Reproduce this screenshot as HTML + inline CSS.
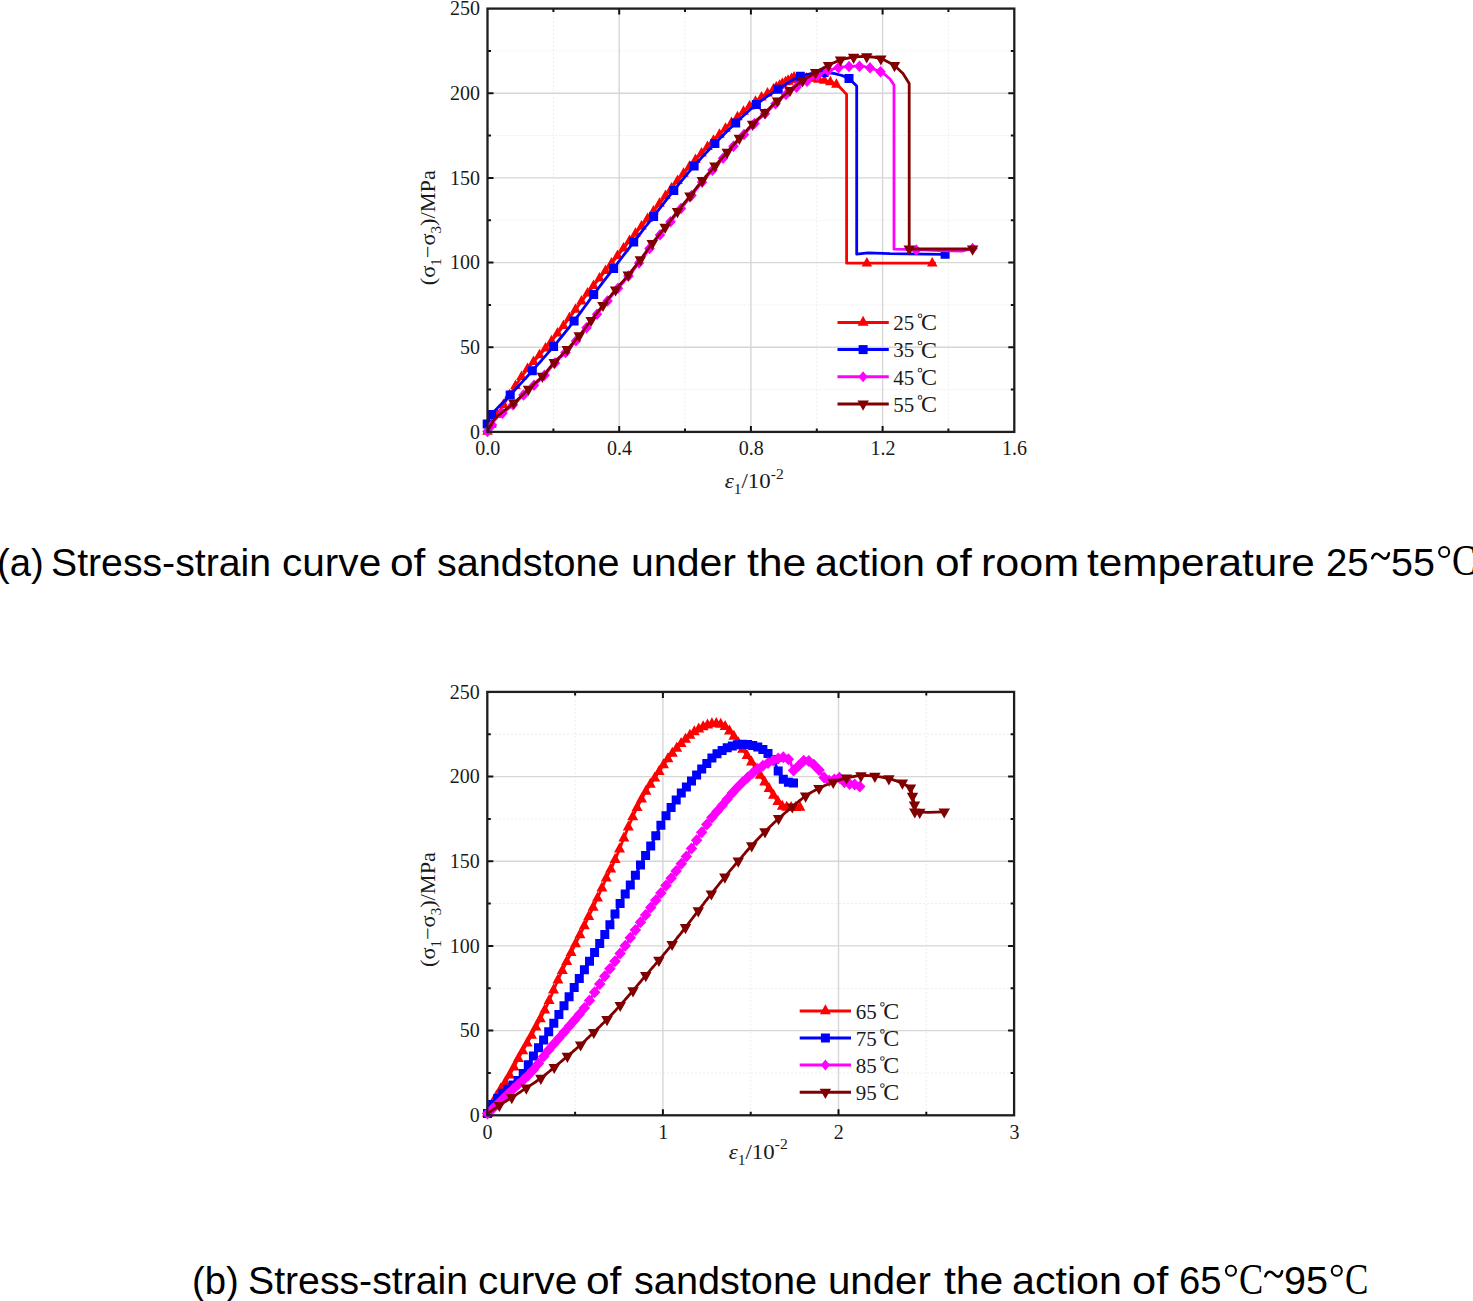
<!DOCTYPE html>
<html><head><meta charset="utf-8"><title>Stress-strain curves</title>
<style>
html,body{margin:0;padding:0;background:#fff;}
body{width:1473px;height:1301px;position:relative;overflow:hidden;}
.w{position:absolute;font-family:"Liberation Sans",sans-serif;font-size:38px;color:#000;white-space:nowrap;line-height:1;transform-origin:0 0;}
</style></head><body>
<svg width="1473" height="1301" viewBox="0 0 1473 1301" style="position:absolute;left:0;top:0">
<line x1="553.4" y1="8.6" x2="553.4" y2="431.9" stroke="#ededed" stroke-width="1" stroke-dasharray="2,2"/>
<line x1="685" y1="8.6" x2="685" y2="431.9" stroke="#ededed" stroke-width="1" stroke-dasharray="2,2"/>
<line x1="816.8" y1="8.6" x2="816.8" y2="431.9" stroke="#ededed" stroke-width="1" stroke-dasharray="2,2"/>
<line x1="948.4" y1="8.6" x2="948.4" y2="431.9" stroke="#ededed" stroke-width="1" stroke-dasharray="2,2"/>
<line x1="487.5" y1="389.6" x2="1014.3" y2="389.6" stroke="#ededed" stroke-width="1" stroke-dasharray="2,2"/>
<line x1="487.5" y1="304.9" x2="1014.3" y2="304.9" stroke="#ededed" stroke-width="1" stroke-dasharray="2,2"/>
<line x1="487.5" y1="220.2" x2="1014.3" y2="220.2" stroke="#ededed" stroke-width="1" stroke-dasharray="2,2"/>
<line x1="487.5" y1="135.6" x2="1014.3" y2="135.6" stroke="#ededed" stroke-width="1" stroke-dasharray="2,2"/>
<line x1="487.5" y1="50.9" x2="1014.3" y2="50.9" stroke="#ededed" stroke-width="1" stroke-dasharray="2,2"/>
<line x1="619.2" y1="8.6" x2="619.2" y2="431.9" stroke="#d6d6d6" stroke-width="1.4"/>
<line x1="750.9" y1="8.6" x2="750.9" y2="431.9" stroke="#d6d6d6" stroke-width="1.4"/>
<line x1="882.6" y1="8.6" x2="882.6" y2="431.9" stroke="#d6d6d6" stroke-width="1.4"/>
<line x1="487.5" y1="347.2" x2="1014.3" y2="347.2" stroke="#d6d6d6" stroke-width="1.4"/>
<line x1="487.5" y1="262.6" x2="1014.3" y2="262.6" stroke="#d6d6d6" stroke-width="1.4"/>
<line x1="487.5" y1="177.9" x2="1014.3" y2="177.9" stroke="#d6d6d6" stroke-width="1.4"/>
<line x1="487.5" y1="93.3" x2="1014.3" y2="93.3" stroke="#d6d6d6" stroke-width="1.4"/>
<polyline points="487.5,431.5 487.8,430.9 488.2,430.2 488.7,429.4 489.2,428.4 489.9,427.3 490.7,425.8 491.7,424.1 493,422 494.5,419.4 496.4,416.4 498.4,413 500.6,409.4 502.9,405.6 505.2,401.9 507.5,398.3 509.6,394.9 511.7,391.7 513.6,388.7 515.6,385.7 517.5,382.7 519.5,379.7 521.6,376.8 523.7,373.8 526,370.8 528.4,367.8 531,364.7 533.6,361.7 536.3,358.7 539.1,355.6 541.8,352.6 544.5,349.5 547.1,346.4 549.7,343.3 552.2,340.1 554.7,337 557.2,333.8 559.7,330.6 562.2,327.5 564.6,324.2 567.1,321 569.6,317.7 572,314.4 574.4,311.1 576.9,307.8 579.3,304.5 581.7,301.1 584.2,297.8 586.7,294.5 589.2,291.2 591.8,288 594.4,284.7 597,281.4 599.6,278.2 602.2,274.9 604.9,271.7 607.5,268.4 610.1,265.1 612.7,261.8 615.4,258.5 618,255.2 620.6,251.9 623.3,248.6 625.9,245.4 628.5,242.1 631.1,238.9 633.8,235.6 636.4,232.4 639,229.2 641.7,226 644.3,222.8 646.9,219.6 649.5,216.4 652,213.2 654.6,209.9 657.1,206.6 659.6,203.4 662.2,200.1 664.7,196.9 667.2,193.7 669.7,190.5 672.3,187.4 674.8,184.2 677.3,181.1 679.8,178 682.3,175 684.9,171.9 687.4,169 690,166 692.5,163.1 695.1,160.2 697.7,157.4 700.3,154.6 702.9,151.8 705.5,149 708.1,146.3 710.7,143.6 713.2,140.9 715.8,138.3 718.4,135.7 721,133.1 723.6,130.5 726.2,128 728.7,125.5 731.3,123 733.9,120.6 736.4,118.1 739,115.7 741.5,113.4 744.1,111 746.7,108.8 749.3,106.5 751.9,104.4 754.6,102.3 757.3,100.3 760,98.3 762.7,96.4 765.5,94.6 768.2,92.8 771,91 773.7,89.2 776.8,87.3 780.2,85.2 783.9,83.1 787.5,81 790.8,79.2 793.4,77.7 795.2,76.7 795.8,76.3 794.9,76.8 792.6,78.1 789.2,80 785.4,82.2 781.4,84.5 777.8,86.5 775,88.1 773.5,89 773.2,89.1 773.8,88.8 775,88.1 776.6,87.1 778.5,86 780.5,84.9 782.4,84 784,83.2 785.4,82.6 786.9,82.1 788.4,81.6 789.9,81.1 791.4,80.6 793,80.2 794.5,79.8 796,79.5 797.5,79.2 799,78.9 800.6,78.7 802.1,78.5 803.6,78.4 805.1,78.3 806.6,78.2 808,78.2 809.4,78.2 810.7,78.3 812,78.5 813.2,78.7 814.5,78.9 815.7,79.1 816.9,79.3 818,79.5 819.1,79.7 820.1,79.8 821,80 822,80.1 822.9,80.3 823.9,80.5 824.9,80.7 826,81 827.2,81.3 828.4,81.6 829.7,81.9 830.9,82.2 832.3,82.6 833.6,83.1 834.9,83.7 836.2,84.5 837.6,85.5 839,86.7 840.5,88.1 842,89.6 843.5,91.1 844.7,92.4 845.8,93.5 846.6,94.3 846.6,263.2 935.8,263.2" fill="none" stroke="#ff0000" stroke-width="2.8" stroke-linejoin="round" stroke-linecap="butt"/>
<path d="M482.2 434.7L492.8 434.7L487.5 425.2ZM486.2 427.7L496.8 427.7L491.5 418.2ZM492.2 417.7L502.8 417.7L497.5 408.2ZM498.2 407.9L508.8 407.9L503.5 398.4ZM504.2 398.3L514.8 398.3L509.5 388.8ZM510.2 389L520.8 389L515.5 379.5ZM516.2 380.1L526.8 380.1L521.5 370.6ZM522.2 372.1L532.8 372.1L527.5 362.6ZM528.2 365L538.8 365L533.5 355.5ZM534.2 358.3L544.8 358.3L539.5 348.8ZM540.2 351.5L550.8 351.5L545.5 342ZM546.2 344.2L556.8 344.2L551.5 334.7ZM552.2 336.6L562.8 336.6L557.5 327.1ZM558.2 328.9L568.8 328.9L563.5 319.4ZM564.2 321L574.8 321L569.5 311.5ZM570.2 312.8L580.8 312.8L575.5 303.3ZM576.2 304.6L586.8 304.6L581.5 295.1ZM582.2 296.6L592.8 296.6L587.5 287.1ZM588.2 289L598.8 289L593.5 279.5ZM594.2 281.5L604.8 281.5L599.5 272ZM600.2 274L610.8 274L605.5 264.5ZM606.2 266.5L616.8 266.5L611.5 257ZM612.2 259L622.8 259L617.5 249.5ZM618.2 251.5L628.8 251.5L623.5 242ZM624.2 244.1L634.8 244.1L629.5 234.6ZM630.2 236.7L640.8 236.7L635.5 227.2ZM636.2 229.4L646.8 229.4L641.5 219.9ZM642.2 222L652.8 222L647.5 212.5ZM648.2 214.4L658.8 214.4L653.5 204.9ZM654.2 206.7L664.8 206.7L659.5 197.2ZM660.2 199L670.8 199L665.5 189.5ZM666.2 191.5L676.8 191.5L671.5 182ZM672.2 184L682.8 184L677.5 174.5ZM678.2 176.7L688.8 176.7L683.5 167.2ZM684.2 169.7L694.8 169.7L689.5 160.2ZM690.2 162.9L700.8 162.9L695.5 153.4ZM696.2 156.4L706.8 156.4L701.5 146.9ZM702.2 150.1L712.8 150.1L707.5 140.6ZM708.2 143.8L718.8 143.8L713.5 134.3ZM714.2 137.7L724.8 137.7L719.5 128.2ZM720.2 131.8L730.8 131.8L725.5 122.3ZM726.2 126L736.8 126L731.5 116.5ZM732.2 120.3L742.8 120.3L737.5 110.8ZM738.2 114.8L748.8 114.8L743.5 105.3ZM744.2 109.5L754.8 109.5L749.5 100ZM750.2 104.8L760.8 104.8L755.5 95.3ZM756.2 100.5L766.8 100.5L761.5 91ZM762.2 96.4L772.8 96.4L767.5 86.9ZM768.2 92.5L778.8 92.5L773.5 83ZM774.2 88.8L784.8 88.8L779.5 79.3ZM780.2 85.3L790.8 85.3L785.5 75.8ZM786.2 81.9L796.8 81.9L791.5 72.4ZM788.8 80.4L799.3 80.4L794.1 70.9ZM782.8 83.8L793.3 83.8L788.1 74.3ZM776.8 87.2L787.3 87.2L782.1 77.7ZM770.8 90.7L781.3 90.7L776.1 81.2ZM771.1 90.4L781.6 90.4L776.4 80.9ZM777.1 87.1L787.6 87.1L782.4 77.6ZM783.1 84.7L793.6 84.7L788.4 75.2ZM789.1 83L799.6 83L794.4 73.5ZM795.1 81.9L805.6 81.9L800.4 72.4ZM801.1 81.4L811.6 81.4L806.4 71.9ZM807.1 81.7L817.6 81.7L812.4 72.2ZM813.1 82.7L823.6 82.7L818.4 73.2ZM819.1 83.8L829.6 83.8L824.4 74.3ZM825.1 85.2L835.6 85.2L830.4 75.7ZM831.1 87.8L841.6 87.8L836.4 78.3ZM861.6 266.4L872.1 266.4L866.9 256.9ZM927 266.4L937.5 266.4L932.2 256.9Z" fill="#ff0000"/>
<polyline points="487.2,424 487.4,423.3 487.6,422.5 487.9,421.6 488.2,420.5 488.6,419.2 489.3,417.8 490.2,416.2 491.5,414.5 493.1,412.6 495.1,410.4 497.3,408.1 499.7,405.6 502.3,403 504.9,400.4 507.6,397.6 510.2,394.9 512.8,392.1 515.5,389.2 518.3,386.2 521.1,383.1 523.9,380.1 526.8,377 529.6,373.9 532.3,370.8 535,367.8 537.7,364.7 540.4,361.7 543,358.7 545.7,355.6 548.3,352.6 551,349.5 553.6,346.4 556.2,343.3 558.8,340.1 561.4,337 564,333.8 566.5,330.6 569.1,327.5 571.6,324.2 574.1,321 576.6,317.7 579.1,314.4 581.5,311.1 583.9,307.8 586.4,304.5 588.8,301.1 591.2,297.8 593.7,294.5 596.2,291.2 598.6,288 601.1,284.7 603.6,281.4 606.1,278.2 608.6,274.9 611.1,271.7 613.6,268.4 616.1,265.1 618.6,261.8 621.1,258.5 623.7,255.2 626.2,251.9 628.7,248.6 631.2,245.4 633.7,242.1 636.2,238.9 638.7,235.6 641.2,232.4 643.6,229.2 646.1,226 648.6,222.8 651.1,219.6 653.6,216.4 656.1,213.2 658.6,209.9 661.1,206.6 663.7,203.4 666.2,200.1 668.7,196.9 671.3,193.7 673.8,190.5 676.3,187.4 678.9,184.2 681.4,181.1 683.9,178 686.4,175 689,171.9 691.5,169 694.1,166 696.7,163.1 699.3,160.2 701.9,157.4 704.5,154.6 707.1,151.8 709.7,149 712.3,146.3 714.9,143.6 717.5,140.9 720.1,138.3 722.7,135.7 725.3,133.1 727.9,130.5 730.5,128 733.1,125.5 735.7,123 738.3,120.6 740.9,118.1 743.4,115.7 746,113.4 748.6,111 751.2,108.8 753.8,106.5 756.4,104.4 759.1,102.3 761.8,100.3 764.5,98.3 767.2,96.4 770,94.6 772.7,92.8 775.5,91 778.2,89.2 780.9,87.4 783.7,85.6 786.4,83.8 789.1,82 791.9,80.4 794.7,78.8 797.5,77.5 800.3,76.3 803.2,75.4 806.3,74.6 809.4,74 812.5,73.5 815.6,73.1 818.6,72.9 821.4,72.7 824,72.6 826.4,72.6 828.7,72.7 830.9,73 832.9,73.3 834.9,73.7 836.7,74.2 838.4,74.6 840,75 841.5,75.4 843,75.9 844.3,76.4 845.5,77 846.6,77.5 847.5,77.9 848.4,78.3 849,78.6 856.7,86 856.7,254.2 868,252.8 890,253.6 945.1,254.3" fill="none" stroke="#0000ff" stroke-width="2.8" stroke-linejoin="round" stroke-linecap="butt"/>
<path d="M482.7 419.5h9v9h-9ZM487 410h9v9h-9ZM505.7 390.4h9v9h-9ZM527.8 366.3h9v9h-9ZM549.1 341.9h9v9h-9ZM569.6 316.5h9v9h-9ZM589.2 290h9v9h-9ZM609.1 263.9h9v9h-9ZM629.2 237.6h9v9h-9ZM649.1 211.9h9v9h-9ZM669.3 186h9v9h-9ZM689.6 161.5h9v9h-9ZM710.4 139.1h9v9h-9ZM731.2 118.5h9v9h-9ZM751.9 99.9h9v9h-9ZM773.7 84.7h9v9h-9ZM795.8 71.8h9v9h-9ZM819.5 68.1h9v9h-9ZM844.5 74.1h9v9h-9ZM940.6 249.8h9v9h-9Z" fill="#0000ff"/>
<polyline points="487.5,431.5 487.8,431.1 488.2,430.5 488.7,429.8 489.2,429 489.8,428.2 490.4,427.3 491,426.5 491.6,425.6 492.1,424.8 492.5,424 492.8,423.2 493.2,422.4 493.7,421.5 494.4,420.5 495.4,419.4 496.6,418.1 498.2,416.6 500.2,415 502.5,413.1 504.9,411.3 507.4,409.3 509.9,407.3 512.2,405.4 514.4,403.6 516.4,401.8 518.3,400.1 520.2,398.3 522,396.6 523.8,394.8 525.6,393.1 527.3,391.4 529.1,389.7 530.9,388 532.7,386.4 534.5,384.8 536.2,383.2 538,381.7 539.7,380.1 541.4,378.4 543,376.8 544.6,375.1 546.1,373.4 547.6,371.7 549,369.9 550.4,368.2 551.9,366.4 553.4,364.7 554.9,363 556.5,361.3 558.1,359.7 559.7,358.1 561.4,356.5 563,354.9 564.7,353.3 566.3,351.7 567.9,350 569.4,348.3 571,346.6 572.5,344.9 574,343.2 575.5,341.5 576.9,339.8 578.4,338 579.9,336.2 581.4,334.4 582.9,332.5 584.3,330.6 585.8,328.6 587.3,326.7 588.7,324.7 590.2,322.8 591.7,320.9 593.2,319 594.7,317.1 596.1,315.3 597.6,313.4 599.1,311.5 600.6,309.7 602.1,307.8 603.6,305.9 605.1,304 606.7,302 608.3,300.1 609.9,298.1 611.4,296.2 613,294.2 614.6,292.3 616.2,290.4 617.8,288.5 619.4,286.7 621,284.8 622.6,283 624.2,281.2 625.8,279.3 627.3,277.5 628.9,275.6 630.4,273.7 632,271.8 633.5,269.9 635,268 636.5,266.1 638,264.2 639.5,262.3 641,260.3 642.5,258.3 643.9,256.3 645.4,254.3 646.9,252.2 648.3,250.1 649.8,248.1 651.3,246 652.8,244 654.4,242 656,239.9 657.6,237.9 659.2,235.9 660.9,233.8 662.5,231.8 664.1,229.8 665.7,227.8 667.3,225.8 668.8,223.8 670.4,221.9 671.9,219.9 673.5,218 675,216 676.5,214 678.1,212.1 679.7,210.2 681.2,208.2 682.8,206.3 684.4,204.3 685.9,202.4 687.5,200.5 689,198.5 690.6,196.6 692.2,194.7 693.7,192.7 695.2,190.7 696.8,188.8 698.3,186.8 699.9,184.9 701.4,183 703,181.1 704.6,179.2 706.1,177.4 707.7,175.6 709.3,173.7 710.9,171.9 712.5,170.2 714,168.4 715.6,166.6 717.1,164.8 718.7,163.1 720.2,161.4 721.7,159.7 723.2,158 724.8,156.2 726.3,154.5 727.8,152.8 729.3,151.1 730.8,149.3 732.3,147.6 733.8,145.8 735.4,144.1 736.9,142.3 738.4,140.6 740,138.8 741.6,137 743.2,135.2 744.9,133.4 746.6,131.7 748.3,129.9 749.9,128.1 751.6,126.4 753.2,124.8 754.8,123.2 756.4,121.7 757.9,120.2 759.4,118.8 761,117.4 762.5,116 764.1,114.5 765.6,113.1 767.2,111.6 768.7,110.1 770.3,108.7 771.8,107.2 773.4,105.7 775,104.2 776.5,102.8 778.1,101.4 779.7,100 781.3,98.6 782.8,97.2 784.4,95.8 786,94.5 787.6,93.2 789.1,92 790.6,90.9 792.1,89.9 793.5,88.9 794.9,88 796.3,87.2 797.7,86.4 799.1,85.6 800.6,84.8 802,84 803.5,83.2 804.9,82.3 806.4,81.5 807.9,80.7 809.4,79.9 810.9,79.1 812.4,78.3 814,77.5 815.6,76.7 817.2,75.8 818.9,74.9 820.5,74.1 822.2,73.2 823.8,72.4 825.4,71.7 827,71 828.5,70.4 830,69.9 831.5,69.4 833,69 834.5,68.6 835.9,68.2 837.3,67.9 838.7,67.6 840.1,67.4 841.4,67.2 842.7,67 843.9,66.9 845.2,66.8 846.5,66.8 847.7,66.7 849,66.6 850.3,66.5 851.6,66.4 852.9,66.3 854.2,66.2 855.5,66.2 856.8,66.1 858.1,66.2 859.4,66.2 860.7,66.3 862,66.4 863.2,66.5 864.5,66.7 865.7,66.9 867.1,67.1 868.4,67.4 869.8,67.8 871.3,68.3 873.1,68.8 874.9,69.5 876.7,70.2 878.4,70.9 880,71.5 881.3,72 882.3,72.4 890,79 894,85 894,249.2 916,249.6 940,250.5 962,251.2 972.6,248.4" fill="none" stroke="#ff00ff" stroke-width="2.8" stroke-linejoin="round" stroke-linecap="butt"/>
<path d="M487.5 425.8L492.8 431.5L487.5 437.2L482.2 431.5ZM492 419.2L497.2 424.9L492 430.7L486.8 424.9ZM502.5 407.4L507.8 413.1L502.5 418.9L497.2 413.1ZM513 399L518.2 404.8L513 410.5L507.8 404.8ZM523.5 389.3L528.8 395.1L523.5 400.8L518.2 395.1ZM534 379.5L539.2 385.2L534 391L528.8 385.2ZM544.5 369.4L549.8 375.2L544.5 380.9L539.2 375.2ZM555 357.1L560.2 362.9L555 368.6L549.8 362.9ZM565.5 346.7L570.8 352.5L565.5 358.2L560.2 352.5ZM576 335.1L581.2 340.9L576 346.6L570.8 340.9ZM586.5 322L591.8 327.7L586.5 333.5L581.2 327.7ZM597 308.4L602.2 314.2L597 319.9L591.8 314.2ZM607.5 295.3L612.8 301L607.5 306.8L602.2 301ZM618 282.5L623.2 288.3L618 294L612.8 288.3ZM628.5 270.3L633.8 276.1L628.5 281.8L623.2 276.1ZM639 257.2L644.2 262.9L639 268.7L633.8 262.9ZM649.5 242.7L654.8 248.5L649.5 254.2L644.2 248.5ZM660 229.1L665.2 234.9L660 240.6L654.8 234.9ZM670.5 216L675.8 221.7L670.5 227.5L665.2 221.7ZM681 202.7L686.2 208.5L681 214.2L675.8 208.5ZM691.5 189.7L696.8 195.5L691.5 201.2L686.2 195.5ZM702 176.6L707.2 182.3L702 188.1L696.8 182.3ZM712.5 164.4L717.8 170.1L712.5 175.9L707.2 170.1ZM723 152.5L728.2 158.2L723 164L717.8 158.2ZM733.5 140.5L738.8 146.2L733.5 152L728.2 146.2ZM744 128.7L749.2 134.4L744 140.2L738.8 134.4ZM754.5 117.8L759.8 123.5L754.5 129.3L749.2 123.5ZM765 107.9L770.2 113.7L765 119.4L759.8 113.7ZM775.5 98L780.8 103.8L775.5 109.5L770.2 103.8ZM786 88.8L791.2 94.5L786 100.3L780.8 94.5ZM796.5 81.4L801.8 87.1L796.5 92.9L791.2 87.1ZM807 75.5L812.2 81.2L807 87L801.8 81.2ZM817.5 69.9L822.8 75.6L817.5 81.4L812.2 75.6ZM828 64.9L833.2 70.6L828 76.4L822.8 70.6ZM838.5 61.9L843.8 67.6L838.5 73.4L833.2 67.6ZM849 60.8L854.2 66.6L849 72.3L843.8 66.6ZM859.5 60.5L864.8 66.2L859.5 72L854.2 66.2ZM870 62.1L875.2 67.9L870 73.6L864.8 67.9ZM880.5 65.9L885.8 71.7L880.5 77.4L875.2 71.7ZM916.2 244.2L921.5 250L916.2 255.8L911 250ZM972.6 242.7L977.9 248.4L972.6 254.2L967.4 248.4Z" fill="#ff00ff"/>
<polyline points="487.5,431.5 487.8,431 488.1,430.4 488.5,429.6 488.9,428.7 489.4,427.8 489.9,426.8 490.5,425.9 491,425 491.5,424.2 491.8,423.4 492.2,422.6 492.6,421.8 493.1,420.9 493.8,419.9 494.8,418.8 496,417.5 497.6,416 499.6,414.4 501.9,412.5 504.3,410.7 506.8,408.7 509.3,406.7 511.6,404.8 513.8,403 515.8,401.2 517.7,399.5 519.6,397.7 521.4,395.9 523.2,394.2 525,392.5 526.7,390.8 528.5,389.1 530.3,387.4 532.1,385.8 533.9,384.2 535.6,382.6 537.4,381.1 539.1,379.5 540.8,377.8 542.4,376.2 544,374.5 545.5,372.8 547,371.1 548.4,369.3 549.8,367.6 551.3,365.8 552.8,364.1 554.3,362.4 555.9,360.7 557.5,359.1 559.1,357.5 560.8,355.9 562.4,354.3 564.1,352.7 565.7,351.1 567.3,349.4 568.8,347.7 570.4,346 571.9,344.3 573.4,342.6 574.9,340.9 576.3,339.2 577.8,337.4 579.3,335.6 580.8,333.8 582.3,331.9 583.7,330 585.2,328 586.7,326.1 588.1,324.1 589.6,322.2 591.1,320.3 592.6,318.4 594.1,316.5 595.5,314.7 597,312.8 598.5,310.9 600,309.1 601.5,307.2 603,305.3 604.5,303.4 606.1,301.4 607.7,299.5 609.2,297.5 610.8,295.6 612.4,293.6 614,291.7 615.6,289.8 617.2,287.9 618.8,286.1 620.4,284.2 622,282.4 623.6,280.6 625.2,278.7 626.7,276.9 628.3,275 629.8,273.1 631.4,271.2 632.9,269.3 634.4,267.4 635.9,265.5 637.4,263.6 638.9,261.7 640.4,259.7 641.9,257.7 643.3,255.7 644.8,253.7 646.2,251.6 647.7,249.5 649.2,247.5 650.7,245.4 652.2,243.4 653.8,241.4 655.4,239.3 657,237.3 658.6,235.3 660.3,233.2 661.9,231.2 663.5,229.2 665.1,227.2 666.7,225.2 668.2,223.2 669.8,221.3 671.3,219.3 672.9,217.4 674.4,215.4 675.9,213.4 677.5,211.5 679.1,209.6 680.6,207.6 682.2,205.7 683.8,203.7 685.3,201.8 686.9,199.9 688.4,197.9 690,196 691.6,194.1 693.1,192.1 694.6,190.1 696.2,188.2 697.7,186.2 699.3,184.3 700.8,182.4 702.4,180.5 704,178.6 705.5,176.8 707.1,175 708.7,173.1 710.3,171.3 711.9,169.6 713.4,167.8 715,166 716.5,164.2 718.1,162.5 719.6,160.8 721.1,159.1 722.6,157.4 724.2,155.6 725.7,153.9 727.2,152.2 728.7,150.5 730.2,148.7 731.7,147 733.2,145.2 734.8,143.5 736.3,141.7 737.8,140 739.4,138.2 741,136.4 742.6,134.6 744.3,132.8 746,131.1 747.7,129.3 749.3,127.5 751,125.8 752.6,124.2 754.2,122.6 755.8,121.1 757.3,119.6 758.8,118.2 760.4,116.8 761.9,115.4 763.5,113.9 765,112.5 766.6,111 768.1,109.5 769.7,108.1 771.2,106.6 772.8,105.1 774.4,103.6 775.9,102.2 777.5,100.8 779.1,99.4 780.6,98.1 782.2,96.7 783.7,95.4 785.3,94.1 786.9,92.8 788.4,91.6 790,90.3 791.6,89.1 793.1,87.8 794.7,86.6 796.3,85.4 797.8,84.2 799.4,83.1 801,81.9 802.6,80.8 804.2,79.7 805.8,78.6 807.5,77.5 809.1,76.5 810.7,75.4 812.3,74.4 814,73.4 815.6,72.4 817.2,71.4 818.9,70.5 820.5,69.6 822.1,68.7 823.7,67.8 825.3,66.9 826.9,66.1 828.5,65.3 830,64.5 831.5,63.8 833,63.1 834.5,62.4 836,61.7 837.4,61.1 839,60.5 840.5,60 842.1,59.5 843.7,59.1 845.3,58.7 847,58.3 848.6,58 850.3,57.7 852,57.4 853.6,57.2 855.2,57 856.8,56.8 858.5,56.7 860.1,56.6 861.7,56.5 863.3,56.5 865,56.5 866.7,56.6 868.4,56.7 870.2,56.8 872,57 873.8,57.2 875.6,57.5 877.4,57.9 879.1,58.3 880.9,58.8 882.7,59.5 884.7,60.3 886.6,61.3 888.6,62.3 890.4,63.3 892.1,64.2 893.5,65 894.5,65.5 903,73.5 909.2,83.5 909.2,249 972.6,249" fill="none" stroke="#800000" stroke-width="2.8" stroke-linejoin="round" stroke-linecap="butt"/>
<path d="M508 399.6L519.5 399.6L513.8 409.8ZM522.8 385.7L534.2 385.7L528.5 395.9ZM536.6 372.8L548.1 372.8L542.4 383ZM548.5 359L560 359L554.3 369.2ZM561.5 346L573 346L567.3 356.2ZM573.5 332.2L585 332.2L579.3 342.4ZM585.4 316.9L596.9 316.9L591.1 327.1ZM597.2 301.9L608.8 301.9L603 312.1ZM609.9 286.4L621.4 286.4L615.6 296.6ZM622.5 271.6L634 271.6L628.3 281.8ZM634.6 256.3L646.1 256.3L640.4 266.5ZM646.5 240L658 240L652.2 250.2ZM659.4 223.8L670.9 223.8L665.1 234ZM671.8 208.1L683.2 208.1L677.5 218.3ZM684.2 192.6L695.8 192.6L690 202.8ZM696.6 177.1L708.1 177.1L702.4 187.3ZM709.2 162.6L720.8 162.6L715 172.8ZM721.5 148.8L733 148.8L727.2 159ZM733.6 134.8L745.1 134.8L739.4 145ZM746.9 120.8L758.4 120.8L752.6 131ZM759.2 109.1L770.8 109.1L765 119.3ZM771.8 97.4L783.2 97.4L777.5 107.6ZM784.2 86.9L795.8 86.9L790 97.1ZM796.9 77.4L808.4 77.4L802.6 87.6ZM809.9 69L821.4 69L815.6 79.2ZM822.8 61.9L834.2 61.9L828.5 72.1ZM834.8 56.6L846.2 56.6L840.5 66.8ZM847.9 53.8L859.4 53.8L853.6 64ZM861 53.2L872.5 53.2L866.7 63.4ZM875.1 55.4L886.6 55.4L880.9 65.6ZM888.8 62.1L900.2 62.1L894.5 72.3ZM903.5 245.6L915 245.6L909.2 255.8ZM966.9 245.6L978.4 245.6L972.6 255.8Z" fill="#800000"/>
<path d="M619.2 431.9v-6M619.2 8.6v6M750.9 431.9v-6M750.9 8.6v6M882.6 431.9v-6M882.6 8.6v6M553.4 431.9v-3.5M553.4 8.6v3.5M685 431.9v-3.5M685 8.6v3.5M816.8 431.9v-3.5M816.8 8.6v3.5M948.4 431.9v-3.5M948.4 8.6v3.5M487.5 347.2h6M1014.3 347.2h-6M487.5 262.6h6M1014.3 262.6h-6M487.5 177.9h6M1014.3 177.9h-6M487.5 93.3h6M1014.3 93.3h-6M487.5 389.6h3.5M1014.3 389.6h-3.5M487.5 304.9h3.5M1014.3 304.9h-3.5M487.5 220.2h3.5M1014.3 220.2h-3.5M487.5 135.6h3.5M1014.3 135.6h-3.5M487.5 50.9h3.5M1014.3 50.9h-3.5" stroke="#111" stroke-width="2" fill="none"/>
<rect x="487.5" y="8.6" width="526.8" height="423.3" fill="none" stroke="#1e1e1e" stroke-width="2.3"/>
<g font-family="Liberation Serif" font-size="20" fill="#1a1a1a">
<text x="480" y="438.7" text-anchor="end">0</text>
<text x="480" y="354" text-anchor="end">50</text>
<text x="480" y="269.4" text-anchor="end">100</text>
<text x="480" y="184.7" text-anchor="end">150</text>
<text x="480" y="100.1" text-anchor="end">200</text>
<text x="480" y="15.4" text-anchor="end">250</text>
<text x="487.8" y="455.1" text-anchor="middle">0.0</text>
<text x="619.5" y="455.1" text-anchor="middle">0.4</text>
<text x="751.2" y="455.1" text-anchor="middle">0.8</text>
<text x="882.9" y="455.1" text-anchor="middle">1.2</text>
<text x="1014.6" y="455.1" text-anchor="middle">1.6</text>
<line x1="837.5" y1="322.4" x2="888.8" y2="322.4" stroke="#ff0000" stroke-width="3"/>
<path d="M857.6 325.7L868.6 325.7L863.1 315.7Z" fill="#ff0000"/>
<text x="893.3" y="330.2" font-size="21">25</text>
<circle cx="920" cy="315.8" r="1.8" fill="none" stroke="#444" stroke-width="1.1"/>
<text x="920.9" y="330.3" font-size="24">C</text>
<line x1="837.5" y1="349.6" x2="888.8" y2="349.6" stroke="#0000ff" stroke-width="3"/>
<path d="M858.6 345.1h9v9h-9Z" fill="#0000ff"/>
<text x="893.3" y="357.4" font-size="21">35</text>
<circle cx="920" cy="343" r="1.8" fill="none" stroke="#444" stroke-width="1.1"/>
<text x="920.9" y="357.5" font-size="24">C</text>
<line x1="837.5" y1="376.8" x2="888.8" y2="376.8" stroke="#ff00ff" stroke-width="3"/>
<path d="M863.1 371.3L867.6 376.8L863.1 382.3L858.6 376.8Z" fill="#ff00ff"/>
<text x="893.3" y="384.6" font-size="21">45</text>
<circle cx="920" cy="370.2" r="1.8" fill="none" stroke="#444" stroke-width="1.1"/>
<text x="920.9" y="384.7" font-size="24">C</text>
<line x1="837.5" y1="404" x2="888.8" y2="404" stroke="#800000" stroke-width="3"/>
<path d="M857.4 400.6L868.9 400.6L863.1 410.8Z" fill="#800000"/>
<text x="893.3" y="411.8" font-size="21">55</text>
<circle cx="920" cy="397.4" r="1.8" fill="none" stroke="#444" stroke-width="1.1"/>
<text x="920.9" y="411.9" font-size="24">C</text>
<text x="724.7" y="488.3" font-size="22" textLength="59" lengthAdjust="spacingAndGlyphs"><tspan font-style="italic">ε</tspan><tspan font-size="15" dy="5.5">1</tspan><tspan dy="-5.5">/10</tspan><tspan font-size="15" dy="-9.6">-2</tspan></text>
<text transform="translate(435.2,227.65) rotate(-90)" text-anchor="middle" font-size="21.5" textLength="115" lengthAdjust="spacingAndGlyphs">(σ<tspan font-size="14.5" dy="5.8">1</tspan><tspan dy="-5.8">−σ</tspan><tspan font-size="14.5" dy="5.8">3</tspan><tspan dy="-5.8">)/MPa</tspan></text>
</g>
<line x1="575.1" y1="691.9" x2="575.1" y2="1115.3" stroke="#ededed" stroke-width="1" stroke-dasharray="2,2"/>
<line x1="750.7" y1="691.9" x2="750.7" y2="1115.3" stroke="#ededed" stroke-width="1" stroke-dasharray="2,2"/>
<line x1="926.3" y1="691.9" x2="926.3" y2="1115.3" stroke="#ededed" stroke-width="1" stroke-dasharray="2,2"/>
<line x1="487.3" y1="1073" x2="1014.1" y2="1073" stroke="#ededed" stroke-width="1" stroke-dasharray="2,2"/>
<line x1="487.3" y1="988.3" x2="1014.1" y2="988.3" stroke="#ededed" stroke-width="1" stroke-dasharray="2,2"/>
<line x1="487.3" y1="903.6" x2="1014.1" y2="903.6" stroke="#ededed" stroke-width="1" stroke-dasharray="2,2"/>
<line x1="487.3" y1="818.9" x2="1014.1" y2="818.9" stroke="#ededed" stroke-width="1" stroke-dasharray="2,2"/>
<line x1="487.3" y1="734.2" x2="1014.1" y2="734.2" stroke="#ededed" stroke-width="1" stroke-dasharray="2,2"/>
<line x1="662.9" y1="691.9" x2="662.9" y2="1115.3" stroke="#d6d6d6" stroke-width="1.4"/>
<line x1="838.5" y1="691.9" x2="838.5" y2="1115.3" stroke="#d6d6d6" stroke-width="1.4"/>
<line x1="487.3" y1="1030.6" x2="1014.1" y2="1030.6" stroke="#d6d6d6" stroke-width="1.4"/>
<line x1="487.3" y1="945.9" x2="1014.1" y2="945.9" stroke="#d6d6d6" stroke-width="1.4"/>
<line x1="487.3" y1="861.3" x2="1014.1" y2="861.3" stroke="#d6d6d6" stroke-width="1.4"/>
<line x1="487.3" y1="776.6" x2="1014.1" y2="776.6" stroke="#d6d6d6" stroke-width="1.4"/>
<polyline points="487.5,1113.5 487.9,1112.7 488.3,1111.7 488.9,1110.5 489.5,1109.1 490.2,1107.7 490.9,1106.2 491.6,1104.8 492.3,1103.5 492.9,1102.3 493.5,1101.2 494.2,1100 494.8,1098.9 495.5,1097.7 496.2,1096.5 497.1,1095.1 498,1093.5 499.1,1091.8 500.3,1089.9 501.6,1088 502.9,1085.9 504.3,1083.8 505.7,1081.6 507.1,1079.3 508.5,1077 509.8,1074.6 511.2,1072.2 512.5,1069.7 513.9,1067.1 515.2,1064.5 516.6,1061.8 518,1059.2 519.5,1056.5 521,1053.9 522.5,1051.2 524,1048.6 525.6,1045.9 527.1,1043.2 528.7,1040.4 530.4,1037.5 532,1034.5 533.7,1031.4 535.5,1028.1 537.2,1024.8 539.1,1021.4 540.9,1017.9 542.6,1014.4 544.4,1011 546,1007.6 547.6,1004.2 549,1000.9 550.5,997.5 551.9,994.2 553.3,990.8 554.7,987.4 556.1,984.1 557.6,980.7 559.2,977.3 560.7,974 562.4,970.6 564,967.2 565.6,963.9 567.3,960.5 569,957.2 570.6,953.8 572.2,950.4 573.9,947.1 575.6,943.7 577.2,940.3 578.9,937 580.5,933.6 582.2,930.3 583.8,926.9 585.4,923.5 587.1,920 588.8,916.5 590.5,913 592.1,909.6 593.7,906.2 595.2,903 596.6,900 597.9,897.2 599.1,894.5 600.2,892 601.3,889.6 602.3,887.2 603.3,884.8 604.4,882.5 605.5,880 606.7,877.5 607.9,875 609.1,872.5 610.3,870.1 611.5,867.6 612.7,865.1 613.9,862.5 615,860 616.1,857.4 617.2,854.8 618.3,852.2 619.3,849.5 620.4,846.9 621.4,844.2 622.4,841.6 623.5,839 624.6,836.4 625.6,833.7 626.7,831.1 627.8,828.5 628.8,825.9 629.9,823.3 631,820.9 632,818.5 633,816.2 634,814 635,811.9 636,809.8 637,807.8 638,805.9 639,803.9 640,802 641,800.1 642,798.3 642.9,796.6 643.9,794.8 644.9,793.1 645.9,791.4 646.9,789.7 648,788 649.1,786.2 650.3,784.5 651.5,782.8 652.7,781 653.9,779.2 655.1,777.5 656.3,775.8 657.5,774 658.7,772.2 659.9,770.5 661,768.7 662.2,766.9 663.4,765.1 664.6,763.4 665.8,761.7 667,760 668.2,758.4 669.5,756.8 670.8,755.2 672,753.7 673.3,752.2 674.6,750.7 675.8,749.3 677,748 678.2,746.7 679.3,745.5 680.4,744.3 681.6,743.2 682.7,742.1 683.8,741.1 684.9,740 686,739 687.1,738 688.2,737 689.3,736 690.4,735 691.6,734.1 692.7,733.2 693.8,732.3 695,731.5 696.2,730.7 697.4,729.9 698.7,729.2 699.9,728.4 701.2,727.8 702.5,727.1 703.7,726.5 705,726 706.3,725.5 707.5,725 708.8,724.6 710.1,724.2 711.3,723.9 712.6,723.7 713.8,723.6 715,723.5 716.2,723.5 717.3,723.6 718.5,723.8 719.6,724.1 720.7,724.4 721.8,724.9 722.9,725.4 724,726 725,726.7 726.1,727.5 727.1,728.4 728.1,729.4 729,730.5 730,731.6 731,732.8 732,734 733,735.3 734,736.6 735,738 735.9,739.4 736.9,740.9 737.9,742.4 739,744 740,745.5 741.1,747 742.2,748.6 743.3,750.2 744.4,751.9 745.6,753.5 746.7,755.2 747.9,756.8 749,758.5 750.1,760.2 751.3,761.9 752.4,763.6 753.5,765.3 754.7,767 755.8,768.7 756.9,770.3 758,772 759.1,773.6 760.2,775.3 761.2,776.9 762.3,778.5 763.4,780.1 764.4,781.7 765.5,783.2 766.5,784.8 767.5,786.4 768.6,787.9 769.6,789.5 770.6,791.1 771.6,792.6 772.6,794.1 773.6,795.5 774.5,796.8 775.4,798.1 776.2,799.4 777.1,800.6 777.9,801.8 778.7,802.9 779.4,803.9 780.2,804.8 781,805.5 781.7,806.1 782.4,806.5 783,806.8 783.6,807 784.3,807.2 785,807.3 785.9,807.4 787,807.5 788.4,807.6 790.1,807.6 791.9,807.6 793.9,807.6 795.8,807.6 797.5,807.5 798.9,807.5 800,807.5" fill="none" stroke="#ff0000" stroke-width="2.8" stroke-linejoin="round" stroke-linecap="butt"/>
<path d="M482 1116.8L493 1116.8L487.5 1106.8ZM486.4 1107.6L497.4 1107.6L491.9 1097.6ZM490.8 1099.7L501.8 1099.7L496.3 1089.7ZM495.2 1092.6L506.2 1092.6L500.7 1082.6ZM499.6 1085.9L510.6 1085.9L505.1 1075.9ZM504 1078.6L515 1078.6L509.5 1068.6ZM508.4 1070.4L519.4 1070.4L513.9 1060.4ZM512.8 1062L523.8 1062L518.3 1052ZM517.2 1054.2L528.2 1054.2L522.7 1044.2ZM521.6 1046.6L532.6 1046.6L527.1 1036.6ZM526 1038.7L537 1038.7L531.5 1028.7ZM530.4 1030.6L541.4 1030.6L535.9 1020.6ZM534.8 1022.3L545.8 1022.3L540.3 1012.3ZM539.2 1013.6L550.2 1013.6L544.7 1003.6ZM543.6 1004.1L554.6 1004.1L549.1 994.1ZM548 993.5L559 993.5L553.5 983.5ZM552.4 983.4L563.4 983.4L557.9 973.4ZM556.8 974.1L567.8 974.1L562.3 964.1ZM561.2 965.1L572.2 965.1L566.7 955.1ZM565.6 956.1L576.6 956.1L571.1 946.1ZM570 947.2L581 947.2L575.5 937.2ZM574.4 938.2L585.4 938.2L579.9 928.2ZM578.8 929.2L589.8 929.2L584.3 919.2ZM583.2 920.1L594.2 920.1L588.7 910.1ZM587.6 910.8L598.6 910.8L593.1 900.8ZM592 901.4L603 901.4L597.5 891.4ZM596.4 891.4L607.4 891.4L601.9 881.4ZM600.8 881.6L611.8 881.6L606.3 871.6ZM605.2 872.5L616.2 872.5L610.7 862.5ZM609.6 863.1L620.6 863.1L615.1 853.1ZM614 852.4L625 852.4L619.5 842.4ZM618.4 841.4L629.4 841.4L623.9 831.4ZM622.8 830.5L633.8 830.5L628.3 820.5ZM627.2 820.3L638.2 820.3L632.7 810.3ZM631.6 811L642.6 811L637.1 801ZM636 802.5L647 802.5L641.5 792.5ZM640.4 794.8L651.4 794.8L645.9 784.8ZM644.8 787.8L655.8 787.8L650.3 777.8ZM649.2 781.4L660.2 781.4L654.7 771.4ZM653.6 774.9L664.6 774.9L659.1 764.9ZM658 768.3L669 768.3L663.5 758.3ZM662.4 762.2L673.4 762.2L667.9 752.2ZM666.8 756.7L677.8 756.7L672.3 746.7ZM671.2 751.7L682.2 751.7L676.7 741.7ZM675.6 747L686.6 747L681.1 737ZM680 742.8L691 742.8L685.5 732.8ZM684.4 738.8L695.4 738.8L689.9 728.8ZM688.8 735.3L699.8 735.3L694.3 725.3ZM693.2 732.5L704.2 732.5L698.7 722.5ZM697.6 730.2L708.6 730.2L703.1 720.2ZM702 728.4L713 728.4L707.5 718.4ZM706.4 727.2L717.4 727.2L711.9 717.2ZM710.8 726.9L721.8 726.9L716.3 716.9ZM715.2 727.8L726.2 727.8L720.7 717.8ZM719.6 730.1L730.6 730.1L725.1 720.1ZM724 734.4L735 734.4L729.5 724.4ZM728.4 739.8L739.4 739.8L733.9 729.8ZM732.8 746.3L743.8 746.3L738.3 736.3ZM737.2 752.7L748.2 752.7L742.7 742.7ZM741.6 759.1L752.6 759.1L747.1 749.1ZM746 765.5L757 765.5L751.5 755.5ZM750.4 772.2L761.4 772.2L755.9 762.2ZM754.8 778.8L765.8 778.8L760.3 768.8ZM759.2 785.4L770.2 785.4L764.7 775.4ZM763.6 792.1L774.6 792.1L769.1 782.1ZM768 798.7L779 798.7L773.5 788.7ZM772.4 805.1L783.4 805.1L777.9 795.1ZM776.8 809.8L787.8 809.8L782.3 799.8ZM781.2 810.8L792.2 810.8L786.7 800.8ZM785.6 811L796.6 811L791.1 801ZM790 810.9L801 810.9L795.5 800.9ZM794.4 810.8L805.4 810.8L799.9 800.8Z" fill="#ff0000"/>
<polyline points="487.5,1113.5 487.9,1112.8 488.4,1111.8 489,1110.7 489.7,1109.4 490.4,1108 491.2,1106.6 492.1,1105.3 493,1104 494,1102.8 495,1101.5 496.1,1100.2 497.2,1098.9 498.4,1097.6 499.6,1096.4 500.8,1095.2 502,1094 503.2,1092.9 504.5,1091.9 505.7,1090.9 507,1089.9 508.3,1089 509.5,1088 510.8,1087 512,1086 513.2,1085 514.2,1084.1 515.3,1083.2 516.4,1082.3 517.4,1081.3 518.6,1080.1 519.7,1078.7 521,1077 522.3,1075 523.7,1072.7 525.2,1070.2 526.7,1067.6 528.2,1064.8 529.8,1062 531.4,1059.2 533,1056.5 534.6,1053.9 536.3,1051.2 538,1048.6 539.8,1045.9 541.5,1043.2 543.3,1040.4 545.1,1037.5 547,1034.5 548.9,1031.4 550.9,1028.1 552.9,1024.8 554.9,1021.4 557,1017.9 559,1014.4 561,1011 563,1007.6 564.9,1004.2 566.8,1000.9 568.7,997.5 570.5,994.2 572.4,990.8 574.2,987.4 576.1,984.1 578,980.7 579.9,977.3 581.9,974 583.9,970.6 585.9,967.2 587.9,963.9 589.9,960.5 591.9,957.2 593.8,953.8 595.7,950.4 597.7,947 599.6,943.6 601.5,940.2 603.4,936.8 605.3,933.5 607.1,930.2 608.8,926.9 610.5,923.7 612,920.4 613.6,917.2 615.1,914 616.5,910.8 618,907.8 619.4,904.8 620.8,902 622.2,899.4 623.6,896.9 624.9,894.5 626.2,892.2 627.5,890 628.8,887.7 630.1,885.4 631.4,883 632.7,880.5 634,878 635.3,875.5 636.5,873 637.8,870.5 639.1,867.9 640.4,865.4 641.7,862.8 643,860.3 644.4,857.8 645.7,855.2 647,852.7 648.4,850.2 649.8,847.6 651.2,844.9 652.6,842.2 654,839.4 655.4,836.4 656.9,833.4 658.3,830.4 659.8,827.4 661.3,824.3 662.9,821.3 664.5,818.4 666.2,815.5 667.9,812.6 669.7,809.7 671.5,806.9 673.4,804.1 675.2,801.3 677.1,798.6 679,796 680.9,793.4 683,790.9 685,788.4 687.1,786 689.2,783.7 691.1,781.5 692.9,779.4 694.6,777.5 696.1,775.8 697.4,774.2 698.6,772.8 699.7,771.4 700.8,770.2 701.8,769 702.9,767.8 704,766.5 705.1,765.2 706.3,763.9 707.4,762.7 708.5,761.5 709.6,760.3 710.8,759.1 711.9,758 713,757 714.1,756 715.2,755.1 716.3,754.3 717.4,753.4 718.6,752.7 719.7,751.9 720.8,751.2 722,750.5 723.2,749.8 724.4,749.2 725.6,748.5 726.8,747.9 728.1,747.4 729.4,746.9 730.7,746.4 732,746 733.4,745.6 734.8,745.3 736.2,745 737.7,744.8 739.2,744.6 740.7,744.4 742.1,744.3 743.5,744.3 744.9,744.3 746.2,744.4 747.6,744.5 748.9,744.7 750.2,744.9 751.5,745.2 752.7,745.5 754,745.8 755.3,746.2 756.5,746.6 757.8,747.1 759,747.6 760.2,748.2 761.4,748.8 762.5,749.4 763.5,750 764.5,750.6 765.4,751.3 766.2,751.9 767.1,752.6 767.8,753.3 768.6,754 769.3,754.8 770,755.5 770.7,756.2 771.3,757 771.8,757.7 772.4,758.5 772.9,759.3 773.4,760.1 774,761 774.5,762 775,763.1 775.5,764.3 776,765.6 776.5,766.9 777,768.2 777.6,769.5 778.1,770.8 778.7,772 779.3,773.2 780,774.4 780.7,775.6 781.5,776.8 782.2,777.9 782.9,778.9 783.7,779.8 784.4,780.5 785.1,781.1 785.8,781.5 786.5,781.8 787.2,782 787.9,782.1 788.6,782.3 789.3,782.4 790,782.5 790.8,782.6 791.6,782.7 792.5,782.8 793.4,782.9 794.2,782.9 794.9,782.9 795.5,783 796,783" fill="none" stroke="#0000ff" stroke-width="2.8" stroke-linejoin="round" stroke-linecap="butt"/>
<path d="M483 1109h9v9h-9ZM488.1 1100.1h9v9h-9ZM493.2 1093.9h9v9h-9ZM498.3 1088.8h9v9h-9ZM503.4 1084.8h9v9h-9ZM508.5 1080.6h9v9h-9ZM513.6 1076.1h9v9h-9ZM518.7 1069.1h9v9h-9ZM523.8 1060.2h9v9h-9ZM528.9 1051.4h9v9h-9ZM534 1043.3h9v9h-9ZM539.1 1035.4h9v9h-9ZM544.2 1027.2h9v9h-9ZM549.3 1018.8h9v9h-9ZM554.4 1010.1h9v9h-9ZM559.5 1001.3h9v9h-9ZM564.6 992.2h9v9h-9ZM569.7 983h9v9h-9ZM574.8 973.9h9v9h-9ZM579.9 965.3h9v9h-9ZM585 956.7h9v9h-9ZM590.1 947.9h9v9h-9ZM595.2 939h9v9h-9ZM600.3 929.9h9v9h-9ZM605.4 920.2h9v9h-9ZM610.5 909.6h9v9h-9ZM615.6 898.9h9v9h-9ZM620.7 889.5h9v9h-9ZM625.8 880.5h9v9h-9ZM630.9 870.7h9v9h-9ZM636 860.6h9v9h-9ZM641.1 850.9h9v9h-9ZM646.2 841.4h9v9h-9ZM651.3 831.2h9v9h-9ZM656.4 820.7h9v9h-9ZM661.5 811.3h9v9h-9ZM666.6 803h9v9h-9ZM671.7 795.4h9v9h-9ZM676.8 788.5h9v9h-9ZM681.9 782.4h9v9h-9ZM687 776.6h9v9h-9ZM692.1 770.6h9v9h-9ZM697.2 764.6h9v9h-9ZM702.3 758.9h9v9h-9ZM707.4 753.5h9v9h-9ZM712.5 749.3h9v9h-9ZM717.6 745.9h9v9h-9ZM722.7 743.3h9v9h-9ZM727.8 741.4h9v9h-9ZM732.9 740.3h9v9h-9ZM738 739.8h9v9h-9ZM743.1 740h9v9h-9ZM748.2 741h9v9h-9ZM753.3 742.6h9v9h-9ZM758.4 745.1h9v9h-9ZM763.5 749h9v9h-9ZM768.6 755h9v9h-9ZM773.7 766.5h9v9h-9ZM778.8 774.8h9v9h-9ZM783.9 777.7h9v9h-9ZM789 778.4h9v9h-9Z" fill="#0000ff"/>
<polyline points="487.5,1113.5 488,1113 488.7,1112.4 489.5,1111.7 490.4,1110.9 491.3,1110 492.3,1109.1 493.2,1108.3 494,1107.5 494.8,1106.8 495.5,1106.1 496.3,1105.4 497,1104.7 497.8,1103.9 498.5,1103.2 499.3,1102.5 500,1101.8 500.7,1101.1 501.4,1100.4 502.1,1099.7 502.8,1099 503.5,1098.3 504.2,1097.5 505.1,1096.7 506,1095.8 507.1,1094.8 508.2,1093.7 509.4,1092.6 510.7,1091.4 512,1090.1 513.4,1088.9 514.7,1087.7 516,1086.5 517.3,1085.3 518.6,1084.2 519.9,1083 521.2,1081.9 522.5,1080.7 523.9,1079.5 525.2,1078.3 526.5,1077 527.8,1075.7 529.2,1074.3 530.5,1072.8 531.9,1071.4 533.2,1069.9 534.5,1068.4 535.8,1067 537,1065.5 538.1,1064.1 539.1,1062.8 540,1061.5 540.9,1060.2 541.8,1058.9 542.9,1057.4 544.1,1055.8 545.5,1054 547.1,1052 548.9,1049.9 550.8,1047.6 552.9,1045.2 555,1042.7 557.3,1040.1 559.6,1037.3 562,1034.5 564.6,1031.5 567.3,1028.3 570.3,1025 573.3,1021.5 576.3,1018 579.2,1014.5 582,1011 584.6,1007.6 587,1004.2 589.3,1000.9 591.4,997.5 593.5,994.1 595.6,990.7 597.6,987.4 599.7,984 601.8,980.7 604,977.4 606.2,974.1 608.4,970.9 610.6,967.6 612.9,964.4 615.1,961.1 617.3,957.8 619.5,954.5 621.7,951.2 623.9,947.8 626,944.5 628.2,941.1 630.3,937.7 632.5,934.3 634.7,930.9 637,927.5 639.4,924 641.8,920.4 644.4,916.7 646.9,913.1 649.4,909.5 651.8,906.1 654,902.9 656,900 657.8,897.4 659.3,895.2 660.7,893.1 662,891.2 663.2,889.5 664.4,887.7 665.7,885.9 667,884 668.4,882 669.8,880.1 671.2,878.1 672.6,876.2 673.9,874.2 675.3,872.3 676.7,870.4 678,868.5 679.3,866.6 680.6,864.8 681.8,863 683.1,861.2 684.3,859.5 685.5,857.7 686.8,855.9 688,854 689.2,852.1 690.4,850.2 691.6,848.3 692.8,846.4 693.9,844.5 695.2,842.5 696.4,840.5 697.7,838.5 699,836.4 700.4,834.2 701.8,832 703.2,829.8 704.7,827.5 706.2,825.3 707.7,823.1 709.2,821 710.8,818.9 712.4,816.9 714,814.9 715.7,813 717.4,811 719,809.1 720.7,807.2 722.3,805.3 723.9,803.4 725.4,801.5 726.9,799.6 728.5,797.7 730,795.9 731.5,794.1 733,792.3 734.6,790.5 736.2,788.8 737.8,787 739.5,785.3 741.1,783.7 742.8,782 744.4,780.5 746,778.9 747.6,777.5 749.1,776.1 750.6,774.8 752.1,773.5 753.5,772.3 754.9,771.2 756.3,770.1 757.8,769 759.2,768 760.7,767 762.2,766.1 763.7,765.2 765.2,764.3 766.7,763.5 768.1,762.8 769.5,762.1 770.7,761.5 771.8,761 772.8,760.5 773.8,760.1 774.7,759.7 775.5,759.4 776.3,759.1 777.2,758.9 778,758.6 778.9,758.3 779.7,758.1 780.6,757.8 781.4,757.6 782.2,757.5 783,757.4 783.8,757.3 784.5,757.4 785.2,757.5 785.9,757.7 786.5,757.9 787.1,758.2 787.7,758.6 788.3,759.1 788.9,759.7 789.5,760.5 790.1,761.6 790.7,763.1 791.3,764.8 791.9,766.6 792.5,768.3 793.1,769.8 793.7,770.9 794.3,771.5 794.9,771.6 795.5,771.2 796,770.4 796.6,769.5 797.1,768.4 797.7,767.3 798.3,766.3 798.8,765.5 799.3,764.8 799.8,764.2 800.4,763.5 800.9,762.9 801.4,762.3 801.9,761.8 802.4,761.3 803,761 803.6,760.7 804.2,760.6 804.9,760.5 805.5,760.4 806.2,760.4 806.8,760.5 807.5,760.6 808.1,760.8 808.7,761 809.3,761.3 810,761.7 810.6,762.1 811.2,762.6 811.8,763.1 812.4,763.5 813,764 813.6,764.5 814.2,764.9 814.7,765.4 815.3,765.9 815.9,766.4 816.4,766.9 817,767.4 817.5,768 818,768.6 818.5,769.3 819,769.9 819.4,770.6 819.9,771.3 820.4,772 820.8,772.7 821.3,773.4 821.8,774.1 822.3,774.8 822.8,775.6 823.2,776.3 823.7,777 824.2,777.7 824.7,778.3 825.2,778.8 825.7,779.2 826.1,779.6 826.6,779.9 827,780.2 827.5,780.4 828,780.6 828.5,780.7 829,780.8 829.6,780.8 830.1,780.7 830.8,780.6 831.4,780.4 832,780.2 832.7,779.9 833.3,779.7 834,779.5 834.7,779.3 835.5,779 836.3,778.7 837.1,778.4 837.9,778.1 838.6,777.9 839.2,777.8 839.8,777.8 840.2,778 840.5,778.3 840.7,778.6 840.8,779.1 840.9,779.6 841.2,780.1 841.5,780.6 842,781 842.7,781.4 843.5,781.8 844.5,782.2 845.5,782.6 846.6,783 847.7,783.4 848.7,783.7 849.6,784 850.5,784.2 851.3,784.3 852.1,784.4 852.9,784.4 853.7,784.4 854.5,784.5 855.3,784.6 856.1,784.8 856.9,785.1 857.8,785.5 858.8,786 859.7,786.4 860.5,786.9 861.3,787.4 861.9,787.7 862.4,788" fill="none" stroke="#ff00ff" stroke-width="2.8" stroke-linejoin="round" stroke-linecap="butt"/>
<path d="M487.5 1107.5L493.2 1113.5L487.5 1119.5L481.8 1113.5ZM492.6 1102.8L498.4 1108.8L492.6 1114.8L486.9 1108.8ZM497.7 1098L503.4 1104L497.7 1110L491.9 1104ZM502.8 1093L508.6 1099L502.8 1105L497.1 1099ZM507.9 1088L513.6 1094L507.9 1100L502.1 1094ZM513 1083.3L518.8 1089.3L513 1095.3L507.2 1089.3ZM518.1 1078.6L523.9 1084.6L518.1 1090.6L512.4 1084.6ZM523.2 1074.1L529 1080.1L523.2 1086.1L517.5 1080.1ZM528.3 1069.2L534 1075.2L528.3 1081.2L522.5 1075.2ZM533.4 1063.7L539.1 1069.7L533.4 1075.7L527.6 1069.7ZM538.5 1057.6L544.2 1063.6L538.5 1069.6L532.8 1063.6ZM543.6 1050.4L549.4 1056.4L543.6 1062.4L537.9 1056.4ZM548.7 1044.1L554.5 1050.1L548.7 1056.1L543 1050.1ZM553.8 1038.1L559.5 1044.1L553.8 1050.1L548 1044.1ZM558.9 1032.2L564.6 1038.2L558.9 1044.2L553.1 1038.2ZM564 1026.2L569.8 1032.2L564 1038.2L558.2 1032.2ZM569.1 1020.3L574.9 1026.3L569.1 1032.3L563.4 1026.3ZM574.2 1014.4L580 1020.4L574.2 1026.4L568.5 1020.4ZM579.3 1008.4L585 1014.4L579.3 1020.4L573.5 1014.4ZM584.4 1001.9L590.1 1007.9L584.4 1013.9L578.6 1007.9ZM589.5 994.5L595.2 1000.5L589.5 1006.5L583.8 1000.5ZM594.6 986.3L600.4 992.3L594.6 998.3L588.9 992.3ZM599.7 978L605.5 984L599.7 990L594 984ZM604.8 970.2L610.5 976.2L604.8 982.2L599 976.2ZM609.9 962.7L615.6 968.7L609.9 974.7L604.1 968.7ZM615 955.2L620.8 961.2L615 967.2L609.2 961.2ZM620.1 947.6L625.9 953.6L620.1 959.6L614.4 953.6ZM625.2 939.7L631 945.7L625.2 951.7L619.5 945.7ZM630.3 931.8L636 937.8L630.3 943.8L624.5 937.8ZM635.4 923.9L641.1 929.9L635.4 935.9L629.6 929.9ZM640.5 916.3L646.2 922.3L640.5 928.3L634.8 922.3ZM645.6 908.9L651.4 914.9L645.6 920.9L639.9 914.9ZM650.7 901.6L656.5 907.6L650.7 913.6L645 907.6ZM655.8 894.3L661.5 900.3L655.8 906.3L650 900.3ZM660.9 886.9L666.6 892.9L660.9 898.9L655.1 892.9ZM666 879.4L671.8 885.4L666 891.4L660.2 885.4ZM671.1 872.2L676.9 878.2L671.1 884.2L665.4 878.2ZM676.2 865.1L681.9 871.1L676.2 877.1L670.4 871.1ZM681.3 857.8L687 863.8L681.3 869.8L675.5 863.8ZM686.4 850.4L692.1 856.4L686.4 862.4L680.6 856.4ZM691.5 842.5L697.2 848.5L691.5 854.5L685.8 848.5ZM696.6 834.2L702.4 840.2L696.6 846.2L690.9 840.2ZM701.7 826.2L707.4 832.2L701.7 838.2L695.9 832.2ZM706.8 818.4L712.5 824.4L706.8 830.4L701 824.4ZM711.9 811.5L717.6 817.5L711.9 823.5L706.1 817.5ZM717 805.5L722.8 811.5L717 817.5L711.2 811.5ZM722.1 799.5L727.9 805.5L722.1 811.5L716.4 805.5ZM727.2 793.3L732.9 799.3L727.2 805.3L721.4 799.3ZM732.3 787.1L738 793.1L732.3 799.1L726.5 793.1ZM737.4 781.5L743.1 787.5L737.4 793.5L731.6 787.5ZM742.5 776.3L748.2 782.3L742.5 788.3L736.8 782.3ZM747.6 771.5L753.4 777.5L747.6 783.5L741.9 777.5ZM752.7 767L758.4 773L752.7 779L746.9 773ZM757.8 763L763.5 769L757.8 775L752 769ZM762.9 759.7L768.6 765.7L762.9 771.7L757.1 765.7ZM768 756.9L773.8 762.9L768 768.9L762.2 762.9ZM773.1 754.4L778.9 760.4L773.1 766.4L767.4 760.4ZM778.2 752.5L783.9 758.5L778.2 764.5L772.4 758.5ZM783.3 751.3L789 757.3L783.3 763.3L777.5 757.3ZM788.4 753.2L794.1 759.2L788.4 765.2L782.6 759.2ZM793.5 764.5L799.2 770.5L793.5 776.5L787.8 770.5ZM798.6 759.8L804.4 765.8L798.6 771.8L792.9 765.8ZM803.7 754.7L809.4 760.7L803.7 766.7L797.9 760.7ZM808.8 755.1L814.5 761.1L808.8 767.1L803 761.1ZM813.9 758.7L819.6 764.7L813.9 770.7L808.1 764.7ZM819 764L824.8 770L819 776L813.2 770ZM824.1 771.5L829.9 777.5L824.1 783.5L818.4 777.5ZM829.2 774.8L834.9 780.8L829.2 786.8L823.4 780.8ZM834.3 773.4L840 779.4L834.3 785.4L828.5 779.4ZM839.4 771.8L845.1 777.8L839.4 783.8L833.6 777.8ZM844.5 776.2L850.2 782.2L844.5 788.2L838.8 782.2ZM849.6 778L855.4 784L849.6 790L843.9 784ZM854.7 778.5L860.4 784.5L854.7 790.5L848.9 784.5ZM859.8 780.5L865.5 786.5L859.8 792.5L854 786.5Z" fill="#ff00ff"/>
<polyline points="487.5,1113.8 488.4,1113.1 489.6,1112.3 491.1,1111.2 492.7,1110 494.4,1108.8 496.1,1107.6 497.8,1106.4 499.4,1105.3 500.9,1104.3 502.4,1103.3 503.9,1102.4 505.4,1101.5 507,1100.5 508.5,1099.6 510.1,1098.6 511.8,1097.5 513.5,1096.4 515.3,1095.3 517.1,1094.1 518.9,1092.9 520.8,1091.7 522.6,1090.4 524.5,1089.2 526.3,1088 528.1,1086.8 530,1085.6 531.8,1084.4 533.7,1083.2 535.5,1082 537.3,1080.7 539.1,1079.5 540.9,1078.2 542.6,1076.9 544.3,1075.6 546,1074.2 547.6,1072.8 549.3,1071.5 550.9,1070.1 552.6,1068.7 554.2,1067.3 555.9,1065.9 557.5,1064.5 559.2,1063.2 560.8,1061.8 562.5,1060.4 564.1,1059 565.8,1057.6 567.4,1056.2 569,1054.8 570.7,1053.4 572.4,1052 574,1050.6 575.6,1049.2 577.3,1047.7 578.9,1046.3 580.6,1044.8 582.2,1043.3 583.9,1041.8 585.6,1040.2 587.2,1038.6 588.9,1037.1 590.5,1035.5 592.1,1033.9 593.8,1032.3 595.4,1030.7 597.1,1029.1 598.8,1027.5 600.4,1026 602,1024.3 603.7,1022.7 605.3,1021.1 607,1019.4 608.7,1017.7 610.3,1016 612,1014.2 613.6,1012.5 615.3,1010.7 616.9,1008.9 618.6,1007.1 620.2,1005.3 621.8,1003.5 623.4,1001.7 625,999.9 626.6,998 628.2,996.2 629.8,994.3 631.4,992.5 633,990.6 634.6,988.7 636.2,986.8 637.8,984.9 639.4,983 641,981.1 642.6,979.2 644.2,977.3 645.8,975.4 647.4,973.5 649.1,971.6 650.7,969.7 652.3,967.8 654,966 655.6,964 657.3,962.1 658.9,960.2 660.5,958.3 662.2,956.3 663.8,954.3 665.5,952.4 667.1,950.4 668.8,948.4 670.4,946.3 672.1,944.3 673.8,942.2 675.5,940.1 677.1,938 678.8,935.9 680.5,933.8 682.2,931.6 683.9,929.5 685.5,927.4 687.1,925.3 688.7,923.2 690.3,921.1 691.9,919 693.5,916.9 695.1,914.8 696.7,912.7 698.3,910.6 699.9,908.5 701.5,906.4 703.2,904.3 704.8,902.2 706.4,900.1 708.1,898 709.7,895.9 711.4,893.8 713.1,891.7 714.7,889.6 716.4,887.5 718.1,885.3 719.8,883.2 721.5,881.1 723.2,879.1 724.9,877 726.6,875 728.3,872.9 729.9,870.9 731.6,868.9 733.3,866.9 735,864.9 736.6,863 738.3,861 740,859 741.7,857.1 743.3,855.1 745,853.2 746.7,851.2 748.4,849.3 750,847.5 751.7,845.6 753.4,843.8 755,842 756.7,840.2 758.3,838.5 760,836.7 761.7,835 763.3,833.3 765,831.6 766.7,829.9 768.4,828.2 770.1,826.6 771.8,824.9 773.5,823.3 775.2,821.7 776.9,820.1 778.6,818.5 780.3,817 782,815.5 783.7,814 785.5,812.5 787.2,811.1 788.9,809.6 790.6,808.2 792.3,806.8 794,805.4 795.7,804 797.3,802.5 799,801.1 800.6,799.8 802.3,798.5 803.9,797.2 805.6,796 807.3,794.9 808.9,793.8 810.6,792.8 812.2,791.9 813.9,790.9 815.6,790 817.3,789.2 819,788.3 820.7,787.4 822.5,786.6 824.3,785.8 826.1,785 827.9,784.3 829.7,783.6 831.5,782.9 833.2,782.2 834.9,781.6 836.6,781 838.2,780.4 839.8,779.9 841.5,779.4 843.1,778.9 844.8,778.4 846.5,778 848.3,777.6 850.1,777.2 851.9,776.8 853.7,776.5 855.6,776.2 857.4,775.9 859.2,775.7 861,775.6 862.8,775.5 864.5,775.5 866.3,775.5 868,775.6 869.7,775.7 871.4,775.9 873.2,776 874.9,776.2 876.6,776.4 878.4,776.6 880.2,776.9 881.9,777.2 883.7,777.5 885.4,777.8 887.2,778.2 888.9,778.6 890.7,779.1 892.6,779.7 894.6,780.3 896.5,780.9 898.3,781.6 900,782.2 901.4,782.6 902.4,783 910.5,788 912.5,796.2 914.5,805 915.5,811.8 928,812.3 944.2,811.8" fill="none" stroke="#800000" stroke-width="2.8" stroke-linejoin="round" stroke-linecap="butt"/>
<path d="M493.6 1101.9L505.1 1101.9L499.4 1112.1ZM506.1 1094.1L517.5 1094.1L511.8 1104.3ZM520.5 1084.6L532 1084.6L526.3 1094.8ZM535.1 1074.8L546.6 1074.8L540.9 1085ZM548.5 1063.9L560 1063.9L554.2 1074.1ZM561.6 1052.8L573.1 1052.8L567.4 1063ZM574.9 1041.4L586.4 1041.4L580.6 1051.6ZM588 1028.9L599.5 1028.9L593.8 1039.1ZM601.2 1016L612.8 1016L607 1026.2ZM614.5 1001.9L626 1001.9L620.2 1012.1ZM627.2 987.2L638.8 987.2L633 997.4ZM640 972L651.5 972L645.8 982.2ZM653.1 956.8L664.6 956.8L658.9 967ZM666.4 940.9L677.9 940.9L672.1 951.1ZM679.8 924L691.2 924L685.5 934.2ZM692.5 907.2L704 907.2L698.3 917.4ZM705.6 890.4L717.1 890.4L711.4 900.6ZM719.1 873.6L730.6 873.6L724.9 883.8ZM732.5 857.6L744 857.6L738.3 867.8ZM746 842.2L757.5 842.2L751.7 852.4ZM759.2 828.2L770.8 828.2L765 838.4ZM772.9 815.1L784.4 815.1L778.6 825.3ZM786.5 803.4L798 803.4L792.3 813.6ZM799.9 792.6L811.4 792.6L805.6 802.8ZM813.2 784.9L824.8 784.9L819 795.1ZM827.5 778.8L839 778.8L833.2 789ZM840.8 774.6L852.2 774.6L846.5 784.8ZM855.2 772.2L866.8 772.2L861 782.4ZM869.1 772.8L880.6 772.8L874.9 783ZM883.1 775.2L894.6 775.2L888.9 785.4ZM896.6 779.6L908.1 779.6L902.4 789.8ZM904.8 784.6L916.2 784.6L910.5 794.8ZM906.8 792.8L918.2 792.8L912.5 803ZM908.8 801.6L920.2 801.6L914.5 811.8ZM909 808.4L920.5 808.4L914.8 818.6ZM914 808.8L925.5 808.8L919.7 819ZM938.5 808.4L950 808.4L944.2 818.6Z" fill="#800000"/>
<path d="M662.9 1115.3v-6M662.9 691.9v6M838.5 1115.3v-6M838.5 691.9v6M575.1 1115.3v-3.5M575.1 691.9v3.5M750.7 1115.3v-3.5M750.7 691.9v3.5M926.3 1115.3v-3.5M926.3 691.9v3.5M487.3 1030.6h6M1014.1 1030.6h-6M487.3 945.9h6M1014.1 945.9h-6M487.3 861.3h6M1014.1 861.3h-6M487.3 776.6h6M1014.1 776.6h-6M487.3 1073h3.5M1014.1 1073h-3.5M487.3 988.3h3.5M1014.1 988.3h-3.5M487.3 903.6h3.5M1014.1 903.6h-3.5M487.3 818.9h3.5M1014.1 818.9h-3.5M487.3 734.2h3.5M1014.1 734.2h-3.5" stroke="#111" stroke-width="2" fill="none"/>
<rect x="487.3" y="691.9" width="526.8" height="423.4" fill="none" stroke="#1e1e1e" stroke-width="2.3"/>
<g font-family="Liberation Serif" font-size="20" fill="#1a1a1a">
<text x="479.8" y="1122.1" text-anchor="end">0</text>
<text x="479.8" y="1037.4" text-anchor="end">50</text>
<text x="479.8" y="952.7" text-anchor="end">100</text>
<text x="479.8" y="868.1" text-anchor="end">150</text>
<text x="479.8" y="783.4" text-anchor="end">200</text>
<text x="479.8" y="698.7" text-anchor="end">250</text>
<text x="487.6" y="1138.5" text-anchor="middle">0</text>
<text x="663.2" y="1138.5" text-anchor="middle">1</text>
<text x="838.8" y="1138.5" text-anchor="middle">2</text>
<text x="1014.4" y="1138.5" text-anchor="middle">3</text>
<line x1="799.7" y1="1010.9" x2="851" y2="1010.9" stroke="#ff0000" stroke-width="3"/>
<path d="M819.9 1014.2L830.9 1014.2L825.4 1004.2Z" fill="#ff0000"/>
<text x="855.7" y="1018.7" font-size="21">65</text>
<circle cx="882.4" cy="1004.3" r="1.8" fill="none" stroke="#444" stroke-width="1.1"/>
<text x="883.3" y="1018.8" font-size="24">C</text>
<line x1="799.7" y1="1038" x2="851" y2="1038" stroke="#0000ff" stroke-width="3"/>
<path d="M820.9 1033.5h9v9h-9Z" fill="#0000ff"/>
<text x="855.7" y="1045.8" font-size="21">75</text>
<circle cx="882.4" cy="1031.4" r="1.8" fill="none" stroke="#444" stroke-width="1.1"/>
<text x="883.3" y="1045.9" font-size="24">C</text>
<line x1="799.7" y1="1065.1" x2="851" y2="1065.1" stroke="#ff00ff" stroke-width="3"/>
<path d="M825.4 1059.6L829.9 1065.1L825.4 1070.6L820.9 1065.1Z" fill="#ff00ff"/>
<text x="855.7" y="1072.9" font-size="21">85</text>
<circle cx="882.4" cy="1058.5" r="1.8" fill="none" stroke="#444" stroke-width="1.1"/>
<text x="883.3" y="1073" font-size="24">C</text>
<line x1="799.7" y1="1092.2" x2="851" y2="1092.2" stroke="#800000" stroke-width="3"/>
<path d="M819.6 1088.8L831.1 1088.8L825.4 1099Z" fill="#800000"/>
<text x="855.7" y="1100" font-size="21">95</text>
<circle cx="882.4" cy="1085.6" r="1.8" fill="none" stroke="#444" stroke-width="1.1"/>
<text x="883.3" y="1100.1" font-size="24">C</text>
<text x="728.7" y="1159" font-size="22" textLength="59" lengthAdjust="spacingAndGlyphs"><tspan font-style="italic">ε</tspan><tspan font-size="15" dy="5.5">1</tspan><tspan dy="-5.5">/10</tspan><tspan font-size="15" dy="-9.6">-2</tspan></text>
<text transform="translate(435.2,909.5) rotate(-90)" text-anchor="middle" font-size="21.5" textLength="115" lengthAdjust="spacingAndGlyphs">(σ<tspan font-size="14.5" dy="5.8">1</tspan><tspan dy="-5.8">−σ</tspan><tspan font-size="14.5" dy="5.8">3</tspan><tspan dy="-5.8">)/MPa</tspan></text>
</g><circle cx="1444.15" cy="552.05" r="5" fill="none" stroke="#000" stroke-width="2.1"/><circle cx="1230.95" cy="1270.7" r="5" fill="none" stroke="#000" stroke-width="2.1"/><circle cx="1336.8" cy="1270.7" r="5" fill="none" stroke="#000" stroke-width="2.1"/><path d="M1265.4 1276.3C1266.3 1272.2 1269 1271 1271.5 1272.2S1275.5 1276.6 1278 1276.6S1281.6 1274 1282.1 1271.3" fill="none" stroke="#000" stroke-width="2.6" stroke-linecap="round"/><path d="M1265.4 1276.3C1266.3 1272.2 1269 1271 1271.5 1272.2S1275.5 1276.6 1278 1276.6S1281.6 1274 1282.1 1271.3" transform="translate(106.8,-718)" fill="none" stroke="#000" stroke-width="2.6" stroke-linecap="round"/>
</svg>
<span class="w" style="left:-3.51px;top:543.60px;font-family:'Liberation Sans';font-size:38px;transform:scale(1.0071,1.0)">(a)</span>
<span class="w" style="left:51.34px;top:543.60px;font-family:'Liberation Sans';font-size:38px;transform:scale(1.0316,1.0)">Stress-strain</span>
<span class="w" style="left:281.87px;top:543.60px;font-family:'Liberation Sans';font-size:38px;transform:scale(1.0674,1.0)">curve</span>
<span class="w" style="left:390.17px;top:543.60px;font-family:'Liberation Sans';font-size:38px;transform:scale(1.1167,1.0)">of</span>
<span class="w" style="left:437.16px;top:543.60px;font-family:'Liberation Sans';font-size:38px;transform:scale(1.0410,1.0)">sandstone</span>
<span class="w" style="left:630.84px;top:543.60px;font-family:'Liberation Sans';font-size:38px;transform:scale(1.0800,1.0)">under</span>
<span class="w" style="left:746.68px;top:543.60px;font-family:'Liberation Sans';font-size:38px;transform:scale(1.1240,1.0)">the</span>
<span class="w" style="left:815.33px;top:543.60px;font-family:'Liberation Sans';font-size:38px;transform:scale(1.0835,1.0)">action</span>
<span class="w" style="left:934.57px;top:543.60px;font-family:'Liberation Sans';font-size:38px;transform:scale(1.1633,1.0)">of</span>
<span class="w" style="left:980.70px;top:543.60px;font-family:'Liberation Sans';font-size:38px;transform:scale(1.1333,1.0)">room</span>
<span class="w" style="left:1087.19px;top:543.60px;font-family:'Liberation Sans';font-size:38px;transform:scale(1.1119,1.0)">temperature</span>
<span class="w" style="left:1325.58px;top:543.60px;font-family:'Liberation Sans';font-size:38px;transform:scale(1.0077,1.0)">25</span>
<span class="w" style="left:1391.32px;top:543.60px;font-family:'Liberation Sans';font-size:38px;transform:scale(1.0385,1.0)">55</span>
<span class="w" style="left:1451.65px;top:539.00px;font-family:'Liberation Serif';font-size:44px;transform:scale(0.8240,1.0)">C</span>
<span class="w" style="left:192.49px;top:1262.30px;font-family:'Liberation Sans';font-size:38px;transform:scale(1.0071,1.0)">(b)</span>
<span class="w" style="left:247.84px;top:1262.30px;font-family:'Liberation Sans';font-size:38px;transform:scale(1.0316,1.0)">Stress-strain</span>
<span class="w" style="left:477.87px;top:1262.30px;font-family:'Liberation Sans';font-size:38px;transform:scale(1.0674,1.0)">curve</span>
<span class="w" style="left:586.27px;top:1262.30px;font-family:'Liberation Sans';font-size:38px;transform:scale(1.1167,1.0)">of</span>
<span class="w" style="left:633.66px;top:1262.30px;font-family:'Liberation Sans';font-size:38px;transform:scale(1.0439,1.0)">sandstone</span>
<span class="w" style="left:828.08px;top:1262.30px;font-family:'Liberation Sans';font-size:38px;transform:scale(1.0579,1.0)">under</span>
<span class="w" style="left:944.18px;top:1262.30px;font-family:'Liberation Sans';font-size:38px;transform:scale(1.1240,1.0)">the</span>
<span class="w" style="left:1011.53px;top:1262.30px;font-family:'Liberation Sans';font-size:38px;transform:scale(1.0835,1.0)">action</span>
<span class="w" style="left:1131.91px;top:1262.30px;font-family:'Liberation Sans';font-size:38px;transform:scale(1.1433,1.0)">of</span>
<span class="w" style="left:1178.69px;top:1262.30px;font-family:'Liberation Sans';font-size:38px;transform:scale(1.0051,1.0)">65</span>
<span class="w" style="left:1238.95px;top:1257.80px;font-family:'Liberation Serif';font-size:44px;transform:scale(0.8240,1.0)">C</span>
<span class="w" style="left:1284.12px;top:1262.30px;font-family:'Liberation Sans';font-size:38px;transform:scale(1.0410,1.0)">95</span>
<span class="w" style="left:1344.51px;top:1257.80px;font-family:'Liberation Serif';font-size:44px;transform:scale(0.7960,1.0)">C</span>
</body></html>
